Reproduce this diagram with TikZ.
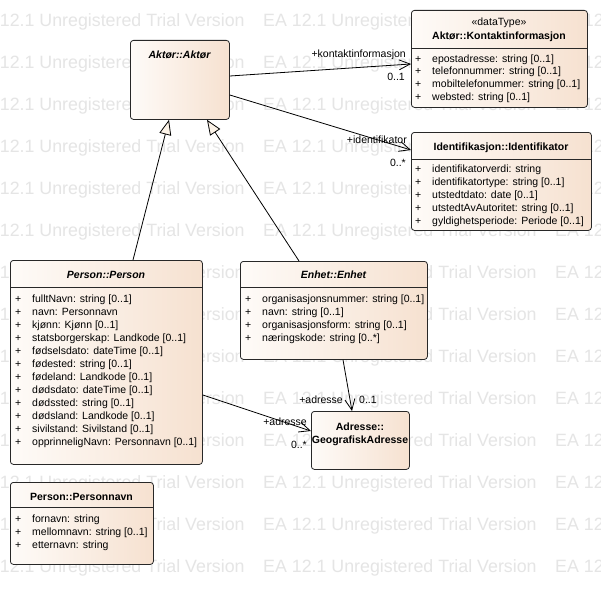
\documentclass[tikz,border=0pt]{standalone}
\usepackage{fontspec}
\setmainfont{Liberation Sans}
\usetikzlibrary{arrows.meta}

\definecolor{boxL}{RGB}{254,251,248}
\definecolor{boxR}{RGB}{246,225,208}
\definecolor{tri}{RGB}{252,243,232}
\definecolor{wmark}{RGB}{229,229,229}
\definecolor{edge}{RGB}{40,40,40}

\tikzset{
  classbox/.style={draw=edge, line width=0.8pt, rounded corners=3pt,
    left color=boxL, right color=boxR, anchor=north west, inner sep=0pt},
  sepline/.style={draw=edge, line width=0.7pt},
  umltext/.style={font=\fontsize{10.5}{12}\selectfont, inner sep=0pt},
  attr/.style={umltext, anchor=base west},
  title/.style={umltext, font=\fontsize{10.5}{12}\selectfont\bfseries, anchor=base},
  abstitle/.style={umltext, font=\fontsize{10.5}{12}\selectfont\bfseries\itshape, anchor=base},
  rolelabel/.style={umltext, anchor=base east},
  multlabel/.style={umltext},
  assoc/.style={draw=black, line width=0.8pt,
    -{Straight Barb[length=11pt,width=10pt,line width=0.8pt]}},
  general/.style={draw=black, line width=0.8pt,
    -{Triangle[length=15pt,width=12pt,fill=tri,line width=0.8pt]}},
  wmtext/.style={font=\fontsize{17.8}{20}\selectfont, text=wmark, anchor=base west, inner sep=0pt}
}

\begin{document}
\begin{tikzpicture}[x=1pt,y=-1pt]
\useasboundingbox (0,0) rectangle (601,594);
\fill[white] (0,0) rectangle (601,594);

% background watermark rows
\foreach \r in {0,...,13}
  \foreach \c in {0,1,2}
    \node[wmtext] (wm-\r-\c) at ({-29+292*\c},{26.4+42*\r}) {EA 12.1 Unregistered Trial Version};

% ---------- class boxes ----------
\node[classbox, minimum width=99pt,  minimum height=79pt]  (aktor)   at (130,40)  {};
\node[classbox, minimum width=176pt, minimum height=97pt]  (kontakt) at (411,10)  {};
\node[classbox, minimum width=180pt, minimum height=98pt]  (ident)   at (411,132) {};
\node[classbox, minimum width=192pt, minimum height=204pt] (person)  at (10,260)  {};
\node[classbox, minimum width=187pt, minimum height=98pt]  (enhet)   at (240,261) {};
\node[classbox, minimum width=98pt,  minimum height=58pt]  (adresse) at (311,411) {};
\node[classbox, minimum width=143pt, minimum height=82pt]  (pnavn)   at (10,482)  {};

% compartment separators
\draw[sepline] ([yshift=-38pt]kontakt.north west) -- ([yshift=-38pt]kontakt.north east);
\draw[sepline] ([yshift=-27pt]ident.north west)   -- ([yshift=-27pt]ident.north east);
\draw[sepline] ([yshift=-27pt]person.north west)  -- ([yshift=-27pt]person.north east);
\draw[sepline] ([yshift=-26pt]enhet.north west)   -- ([yshift=-26pt]enhet.north east);
\draw[sepline] ([yshift=-25pt]pnavn.north west)   -- ([yshift=-25pt]pnavn.north east);

% ---------- titles ----------
\node[abstitle] (aktor-t) at (179.5,58) {Aktør::Aktør};
\node[umltext, anchor=base] (kontakt-s) at (499,26) {«dataType»};
\node[title] (kontakt-t) at (499,40) {Aktør::Kontaktinformasjon};
\node[title] (ident-t) at (501,150) {Identifikasjon::Identifikator};
\node[abstitle] (person-t) at (106,278) {Person::Person};
\node[abstitle] (enhet-t) at (333.5,278) {Enhet::Enhet};
\node[title] (adresse-t1) at (360,430) {Adresse::};
\node[title] (adresse-t2) at (360,443) {GeografiskAdresse};
\node[title] (pnavn-t) at (81.5,500) {Person::Personnavn};

% ---------- attributes ----------
\foreach [count=\i from 0] \t in {epostadresse: string [0..1],
    telefonnummer: string [0..1], mobiltelefonummer: string [0..1],
    websted: string [0..1]} {
  \node[attr] (kontakt-p\i) at (415,{62+12.7*\i}) {+};
  \node[attr] (kontakt-a\i) at (432,{62+12.7*\i}) {\t};
}
\foreach [count=\i from 0] \t in {identifikatorverdi: string,
    identifikatortype: string [0..1], utstedtdato: date [0..1],
    utstedtAvAutoritet: string [0..1], gyldighetsperiode: Periode [0..1]} {
  \node[attr] (ident-p\i) at (415,{172+13*\i}) {+};
  \node[attr] (ident-a\i) at (432,{172+13*\i}) {\t};
}
\foreach [count=\i from 0] \t in {fulltNavn: string [0..1],
    navn: Personnavn, kjønn: Kjønn [0..1],
    statsborgerskap: Landkode [0..1], fødselsdato: dateTime [0..1],
    fødested: string [0..1], fødeland: Landkode [0..1],
    dødsdato: dateTime [0..1], dødssted: string [0..1],
    dødsland: Landkode [0..1], sivilstand: Sivilstand [0..1],
    opprinneligNavn: Personnavn [0..1]} {
  \node[attr] (person-p\i) at (15,{302+13*\i}) {+};
  \node[attr] (person-a\i) at (32,{302+13*\i}) {\t};
}
\foreach [count=\i from 0] \t in {organisasjonsnummer: string [0..1],
    navn: string [0..1], organisasjonsform: string [0..1],
    næringskode: string [0..*]} {
  \node[attr] (enhet-p\i) at (245,{302+13*\i}) {+};
  \node[attr] (enhet-a\i) at (262,{302+13*\i}) {\t};
}
\foreach [count=\i from 0] \t in {fornavn: string,
    mellomnavn: string [0..1], etternavn: string} {
  \node[attr] (pnavn-p\i) at (15,{522+13*\i}) {+};
  \node[attr] (pnavn-a\i) at (32,{522+13*\i}) {\t};
}

% ---------- generalizations ----------
\draw[general] ([xshift=123pt]person.north west) -- ([xshift=39pt]aktor.south west);
\draw[general] ([xshift=59pt]enhet.north west) -- ([xshift=77pt]aktor.south west);

% ---------- associations ----------
\draw[assoc] ([yshift=-36pt]aktor.north east) -- ([yshift=-54pt]kontakt.north west);
\node[rolelabel] (kontakt-role) at (406,57) {+kontaktinformasjon};
\node[rolelabel] (kontakt-mult) at (405,80) {0..1};

\draw[assoc] ([yshift=-55pt]aktor.north east) -- ([yshift=-18pt]ident.north west);
\node[rolelabel] (ident-role) at (407,143) {+identifikator};
\node[rolelabel] (ident-mult) at (406,166) {0..*};

\draw[assoc] ([xshift=103pt]enhet.south west) -- ([xshift=41pt]adresse.north west);
\node[rolelabel] (enhet-role) at (343,403) {+adresse};
\node[umltext, anchor=base west] (enhet-mult) at (359,403) {0..1};

\draw[assoc] ([yshift=-135pt]person.north east) -- ([yshift=-20pt]adresse.north west);
\node[rolelabel] (person-role) at (307,425) {+adresse};
\node[rolelabel] (person-mult) at (307,448) {0..*};
\end{tikzpicture}
\end{document}
